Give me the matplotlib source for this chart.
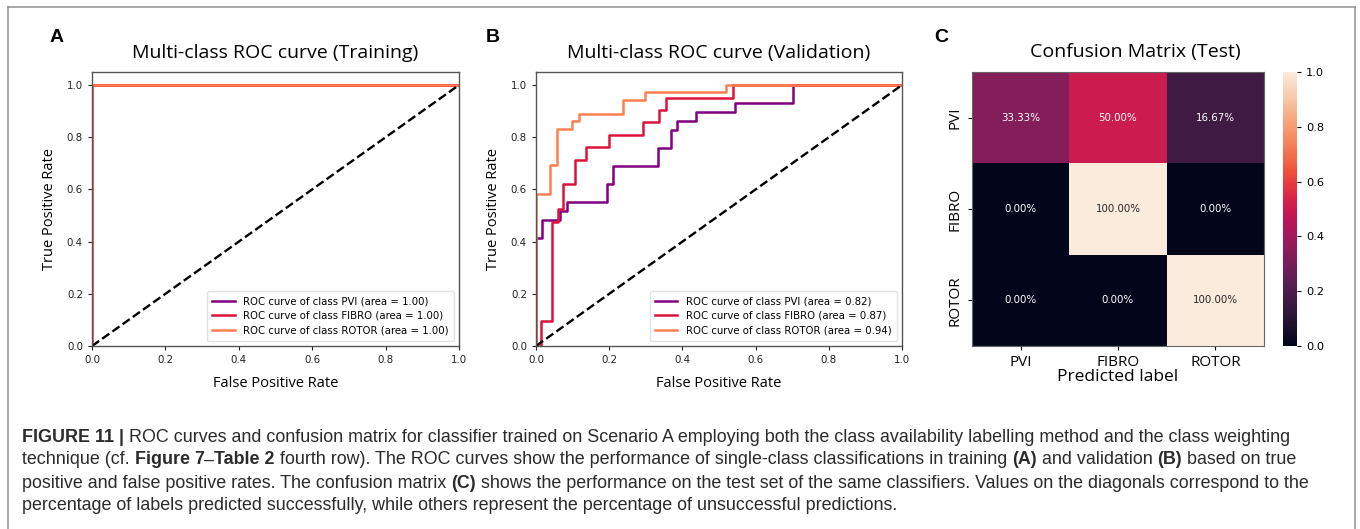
import numpy as np
import matplotlib
matplotlib.use("Agg")
import matplotlib.pyplot as plt
import seaborn as sns
from matplotlib import font_manager
from matplotlib.lines import Line2D

# ---- data -----------------------------------------------------------------
class_names = ["PVI", "FIBRO", "ROTOR"]
line_colors = ["purple", "crimson", "coral"]

# training ROC curves (perfect separation)
train_fpr = {"PVI": [0.0, 0.0, 1.0], "FIBRO": [0.0, 0.0, 1.0], "ROTOR": [0.0, 0.0, 1.0]}
train_tpr = {"PVI": [0.0, 1.0, 1.0], "FIBRO": [0.0, 1.0, 1.0], "ROTOR": [0.0, 1.0, 1.0]}
train_auc = [1.00, 1.00, 1.00]

# validation ROC curves
pvi_fpr = [0, 0, 0.016, 0.016, 0.066, 0.066, 0.086, 0.086, 0.194, 0.194, 0.21, 0.21,
           0.334, 0.334, 0.368, 0.368, 0.385, 0.385, 0.437, 0.437, 0.544, 0.544,
           0.701, 0.701, 1.0]
pvi_tpr = [0, 0.414, 0.414, 0.483, 0.483, 0.517, 0.517, 0.552, 0.552, 0.621, 0.621,
           0.690, 0.690, 0.759, 0.759, 0.828, 0.828, 0.862, 0.862, 0.897, 0.897,
           0.931, 0.931, 1.0, 1.0]
fibro_fpr = [0, 0.013, 0.013, 0.045, 0.045, 0.06, 0.06, 0.075, 0.075, 0.107, 0.107,
             0.137, 0.137, 0.199, 0.199, 0.292, 0.292, 0.337, 0.337, 0.354, 0.354,
             0.537, 0.537, 1.0]
fibro_tpr = [0, 0, 0.095, 0.095, 0.476, 0.476, 0.524, 0.524, 0.619, 0.619, 0.714,
             0.714, 0.762, 0.762, 0.810, 0.810, 0.857, 0.857, 0.905, 0.905, 0.952,
             0.952, 1.0, 1.0]
rotor_fpr = [0, 0, 0.039, 0.039, 0.058, 0.058, 0.098, 0.098, 0.118, 0.118, 0.239,
             0.239, 0.298, 0.298, 0.518, 0.518, 1.0]
rotor_tpr = [0, 0.583, 0.583, 0.694, 0.694, 0.833, 0.833, 0.861, 0.861, 0.889, 0.889,
             0.944, 0.944, 0.972, 0.972, 1.0, 1.0]
val_fpr = {"PVI": pvi_fpr, "FIBRO": fibro_fpr, "ROTOR": rotor_fpr}
val_tpr = {"PVI": pvi_tpr, "FIBRO": fibro_tpr, "ROTOR": rotor_tpr}
val_auc = [0.82, 0.87, 0.94]

# row-normalised confusion matrix on the test set
conf_matrix = np.array([
    [0.3333, 0.5000, 0.1667],
    [0.0000, 1.0000, 0.0000],
    [0.0000, 0.0000, 1.0000],
])

caption_lines = [
    [("FIGURE 11 |", True),
     (" ROC curves and confusion matrix for classifier trained on Scenario A employing both the class availability labelling method and the class weighting", False)],
    [("technique (cf. ", False), ("Figure 7", True), ("\u2013", False), ("Table 2", True),
     (" fourth row). The ROC curves show the performance of single-class classifications in training ", False),
     ("(A)", True), (" and validation ", False), ("(B)", True), (" based on true", False)],
    [("positive and false positive rates. The confusion matrix ", False), ("(C)", True),
     (" shows the performance on the test set of the same classifiers. Values on the diagonals correspond to the", False)],
    [("percentage of labels predicted successfully, while others represent the percentage of unsuccessful predictions.", False)],
]

# ---- figure ---------------------------------------------------------------
W, H = 1360, 529
fig = plt.figure(figsize=(W / 100, H / 100), dpi=100)
fig.patch.set_facecolor("white")

installed = {f.name for f in font_manager.fontManager.ttflist}
label_font = "Open Sans" if "Open Sans" in installed else "DejaVu Sans"
cap_font = "Liberation Sans"


def px_axes(left, top, right, bottom):
    return fig.add_axes([left / W, 1 - bottom / H, (right - left) / W, (bottom - top) / H])


def roc_panel(ax, fpr, tpr, auc, title):
    for name, col, a in zip(class_names, line_colors, auc):
        ax.plot(fpr[name], tpr[name], color=col, lw=1.8,
                label=f"ROC curve of class {name} (area = {a:.2f})")
    ax.plot([0, 1], [0, 1], "k--", lw=1.7)
    ax.set_xlim(0.0, 1.0)
    ax.set_ylim(0.0, 1.05)
    ax.set_xticks(np.arange(0, 1.01, 0.2))
    ax.set_yticks(np.arange(0, 1.01, 0.2))
    ax.tick_params(labelsize=7.4, colors="#222222", length=3, width=0.8)
    for sp in ax.spines.values():
        sp.set_color("#555555")
        sp.set_linewidth(1.0)
    ax.set_xlabel("False Positive Rate", family=label_font, fontsize=10.5, labelpad=8)
    ax.set_ylabel("True Positive Rate", family=label_font, fontsize=10.5, labelpad=7)
    ax.set_title(title, family=label_font, fontsize=14, pad=10)
    leg = ax.legend(loc="lower right", fontsize=7.3, frameon=True, handlelength=2.2,
                    borderpad=0.55, labelspacing=0.45)
    leg.get_frame().set_edgecolor("#dddddd")


axA = px_axes(92, 72, 459, 346)
roc_panel(axA, train_fpr, train_tpr, train_auc, "Multi-class ROC curve (Training)")
axB = px_axes(536, 72, 902, 346)
roc_panel(axB, val_fpr, val_tpr, val_auc, "Multi-class ROC curve (Validation)")

# confusion matrix heatmap
axC = px_axes(972, 72, 1264, 346)
cax = px_axes(1283, 72, 1297, 346)
annot = np.array([[f"{v * 100:.2f}%" for v in row] for row in conf_matrix])
sns.heatmap(conf_matrix, ax=axC, cbar_ax=cax, cmap="rocket", vmin=0, vmax=1,
            annot=annot, fmt="", annot_kws={"fontsize": 7.4},
            xticklabels=class_names, yticklabels=class_names)
axC.tick_params(labelsize=11, length=3, width=0.8)
for t in axC.get_xticklabels():
    t.set_family(label_font)
for t in axC.get_yticklabels():
    t.set_family(label_font)
    t.set_rotation(90)
    t.set_va("center")
axC.set_xlabel("Predicted label", family=label_font, fontsize=12.5, labelpad=-1)
for sp in axC.spines.values():
    sp.set_visible(True)
    sp.set_color("#666666")
    sp.set_linewidth(0.8)
cax.tick_params(labelsize=8.2, length=3, width=0.8)
cax.set_yticks(np.arange(0, 1.01, 0.2))
fig.text(1135 / W, 1 - 52 / H, "Confusion Matrix (Test)", family=label_font,
         fontsize=14, ha="center", va="center")

# panel letters
for letter, x in zip("ABC", [57, 493, 941]):
    fig.text(x / W, 1 - 37 / H, letter, family="Liberation Sans", weight="bold",
             fontsize=14, ha="center", va="center")

# outer frame (open at the bottom)
frame_kw = dict(color="#9a9a9a", lw=1.2, transform=fig.transFigure)
fig.add_artist(Line2D([8 / W, 8 / W], [0, 1 - 7 / H], **frame_kw))
fig.add_artist(Line2D([8 / W, 1355 / W], [1 - 7 / H, 1 - 7 / H], **frame_kw))
fig.add_artist(Line2D([1355 / W, 1355 / W], [0, 1 - 7 / H], **frame_kw))

# caption with bold runs
renderer = fig.canvas.get_renderer()
cap_y = [437, 460, 483, 506]
for line, y in zip(caption_lines, cap_y):
    x = 22
    for txt, bold in line:
        t = fig.text(x / W, 1 - y / H, txt, family=cap_font,
                     weight="bold" if bold else "normal", fontsize=12.9,
                     color="#2b2b2b", ha="left", va="center")
        x += t.get_window_extent(renderer).width

fig.savefig("out.png", dpi=100)
